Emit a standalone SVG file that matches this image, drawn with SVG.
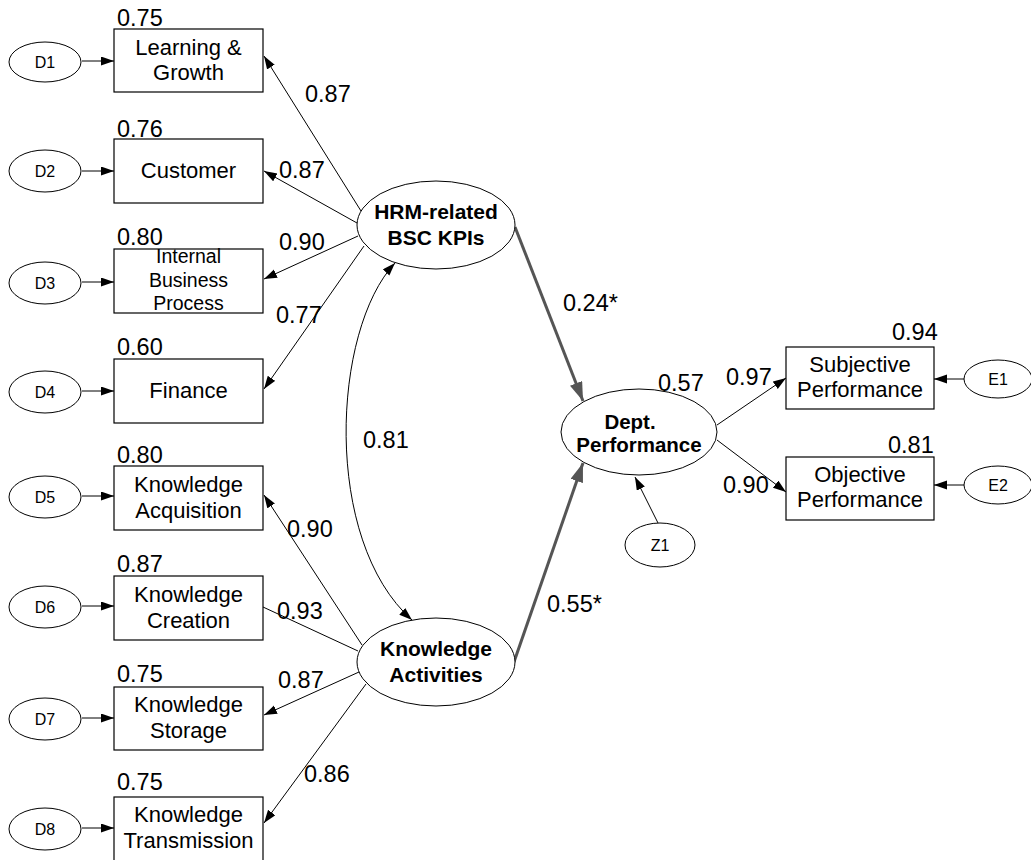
<svg xmlns="http://www.w3.org/2000/svg" width="1031" height="860" viewBox="0 0 1031 860">
<style>
.box{fill:#fff;stroke:#000;stroke-width:1.2}
.ell{fill:#fff;stroke:#000;stroke-width:1}
.t{font-family:"Liberation Sans",Arial,sans-serif;font-size:22px;fill:#000;text-anchor:middle}
.ts{font-family:"Liberation Sans",Arial,sans-serif;font-size:19.5px;fill:#000;text-anchor:middle}
.tb{font-family:"Liberation Sans",Arial,sans-serif;font-size:21px;font-weight:bold;fill:#000;text-anchor:middle}
.d{font-family:"Liberation Sans",Arial,sans-serif;font-size:16px;fill:#000;text-anchor:middle}
.n{font-family:"Liberation Sans",Arial,sans-serif;font-size:23.5px;fill:#000}
.c{fill:none;stroke:#000;stroke-width:1}
.g{fill:none;stroke:#555;stroke-width:3}
</style>
<defs>
<marker id="a" markerUnits="userSpaceOnUse" markerWidth="14" markerHeight="10" refX="13" refY="4.5" orient="auto"><path d="M0,0 L13,4.5 L0,9 z" fill="#000"/></marker>
<marker id="as" markerUnits="userSpaceOnUse" markerWidth="14" markerHeight="10" refX="13" refY="4.5" orient="auto-start-reverse"><path d="M0,0 L13,4.5 L0,9 z" fill="#000"/></marker>
<marker id="ag" markerUnits="userSpaceOnUse" markerWidth="20" markerHeight="14" refX="19" refY="6.5" orient="auto"><path d="M0,0 L19,6.5 L0,13 z" fill="#555"/></marker>
</defs>

<g id="connectors">
<line class="c" x1="82" y1="61" x2="114" y2="61" marker-end="url(#a)"/>
<line class="c" x1="82" y1="171" x2="114" y2="171" marker-end="url(#a)"/>
<line class="c" x1="82" y1="282" x2="114" y2="282" marker-end="url(#a)"/>
<line class="c" x1="82" y1="391" x2="114" y2="391" marker-end="url(#a)"/>
<line class="c" x1="82" y1="496" x2="114" y2="496" marker-end="url(#a)"/>
<line class="c" x1="82" y1="606" x2="114" y2="606" marker-end="url(#a)"/>
<line class="c" x1="82" y1="718" x2="114" y2="718" marker-end="url(#a)"/>
<line class="c" x1="82" y1="828" x2="114" y2="828" marker-end="url(#a)"/>
<line class="c" x1="361" y1="211" x2="264" y2="56" marker-end="url(#a)"/>
<line class="c" x1="357" y1="223" x2="264" y2="171" marker-end="url(#a)"/>
<line class="c" x1="358" y1="236" x2="264" y2="279" marker-end="url(#a)"/>
<line class="c" x1="364" y1="246" x2="264" y2="389" marker-end="url(#a)"/>
<line class="c" x1="362" y1="645" x2="264" y2="495" marker-end="url(#a)"/>
<line class="c" x1="358" y1="651" x2="263" y2="607"/>
<line class="c" x1="359" y1="672" x2="264" y2="715" marker-end="url(#a)"/>
<line class="c" x1="366" y1="684" x2="264" y2="823" marker-end="url(#a)"/>
<path class="c" d="M395,263 C332,330 322,540 412,620" marker-start="url(#as)" marker-end="url(#as)"/>
<line class="g" x1="515" y1="227" x2="583" y2="401" marker-end="url(#ag)"/>
<line class="g" x1="514" y1="662" x2="583" y2="463" marker-end="url(#ag)"/>
<line class="c" x1="717" y1="425" x2="786" y2="378" marker-end="url(#a)"/>
<line class="c" x1="717" y1="440" x2="786" y2="492" marker-end="url(#a)"/>
<line class="c" x1="964" y1="379" x2="934" y2="379" marker-end="url(#a)"/>
<line class="c" x1="964" y1="485" x2="934" y2="485" marker-end="url(#a)"/>
<line class="c" x1="658" y1="523" x2="635" y2="477" marker-end="url(#a)"/>
</g>

<g id="labels">
<text class="n" x="305" y="102">0.87</text>
<text class="n" x="279" y="178">0.87</text>
<text class="n" x="279" y="250">0.90</text>
<text class="n" x="276" y="323">0.77</text>
<text class="n" x="287" y="537">0.90</text>
<text class="n" x="277" y="619">0.93</text>
<text class="n" x="278" y="688">0.87</text>
<text class="n" x="304" y="782">0.86</text>
<text class="n" x="363" y="448">0.81</text>
<text class="n" x="563" y="311">0.24*</text>
<text class="n" x="547" y="612">0.55*</text>
<text class="n" x="658" y="391">0.57</text>
<text class="n" x="726" y="385">0.97</text>
<text class="n" x="723" y="493">0.90</text>
</g>

<g id="D1"><ellipse class="ell" cx="45" cy="62" rx="36" ry="20"/><text class="d" x="45" y="68">D1</text></g>
<g id="D2"><ellipse class="ell" cx="45" cy="171" rx="36" ry="21"/><text class="d" x="45" y="177">D2</text></g>
<g id="D3"><ellipse class="ell" cx="45" cy="283" rx="36" ry="21"/><text class="d" x="45" y="289">D3</text></g>
<g id="D4"><ellipse class="ell" cx="45" cy="392" rx="36" ry="21"/><text class="d" x="45" y="398">D4</text></g>
<g id="D5"><ellipse class="ell" cx="45" cy="497" rx="36" ry="21"/><text class="d" x="45" y="503">D5</text></g>
<g id="D6"><ellipse class="ell" cx="45" cy="607" rx="36" ry="21"/><text class="d" x="45" y="613">D6</text></g>
<g id="D7"><ellipse class="ell" cx="45" cy="719" rx="36" ry="21"/><text class="d" x="45" y="725">D7</text></g>
<g id="D8"><ellipse class="ell" cx="45" cy="829" rx="36" ry="21"/><text class="d" x="45" y="835">D8</text></g>

<g id="learning"><rect class="box" x="114" y="29" width="149" height="63"/><text class="t" x="188.5" y="55">Learning &amp;</text><text class="t" x="188.5" y="80">Growth</text><text class="n" x="117" y="26">0.75</text></g>
<g id="customer"><rect class="box" x="114" y="139" width="149" height="64"/><text class="t" x="188.5" y="178">Customer</text><text class="n" x="117" y="137">0.76</text></g>
<g id="internal"><rect class="box" x="114" y="249" width="149" height="64"/><text class="ts" x="188.5" y="263">Internal</text><text class="ts" x="188.5" y="287">Business</text><text class="ts" x="188.5" y="310">Process</text><text class="n" x="117" y="245">0.80</text></g>
<g id="finance"><rect class="box" x="114" y="359" width="149" height="64"/><text class="t" x="188.5" y="398">Finance</text><text class="n" x="117" y="355">0.60</text></g>
<g id="acquisition"><rect class="box" x="114" y="466" width="149" height="64"/><text class="t" x="188.5" y="492">Knowledge</text><text class="t" x="188.5" y="518">Acquisition</text><text class="n" x="117" y="463">0.80</text></g>
<g id="creation"><rect class="box" x="114" y="576" width="149" height="64"/><text class="t" x="188.5" y="602">Knowledge</text><text class="t" x="188.5" y="628">Creation</text><text class="n" x="117" y="572">0.87</text></g>
<g id="storage"><rect class="box" x="114" y="687" width="149" height="63"/><text class="t" x="188.5" y="712">Knowledge</text><text class="t" x="188.5" y="738">Storage</text><text class="n" x="117" y="682">0.75</text></g>
<g id="transmission"><rect class="box" x="114" y="797" width="149" height="70"/><text class="t" x="188.5" y="822">Knowledge</text><text class="t" x="188.5" y="848">Transmission</text><text class="n" x="117" y="790">0.75</text></g>

<g id="hrm"><ellipse class="ell" cx="436" cy="225" rx="79" ry="44"/><text class="tb" x="436" y="219">HRM-related</text><text class="tb" x="436" y="245">BSC KPIs</text></g>
<g id="ka"><ellipse class="ell" cx="436" cy="662" rx="79" ry="44"/><text class="tb" x="436" y="656">Knowledge</text><text class="tb" x="436" y="682">Activities</text></g>
<g id="dept"><ellipse class="ell" cx="639" cy="432" rx="78" ry="43"/><text class="tb" x="630" y="429" style="font-size:20.5px">Dept.</text><text class="tb" x="639" y="452" style="font-size:20.5px">Performance</text></g>

<g id="subjective"><rect class="box" x="786" y="347" width="148" height="62"/><text class="t" x="860" y="372">Subjective</text><text class="t" x="860" y="397">Performance</text><text class="n" x="892" y="340">0.94</text></g>
<g id="objective"><rect class="box" x="786" y="457" width="148" height="63"/><text class="t" x="860" y="482">Objective</text><text class="t" x="860" y="507">Performance</text><text class="n" x="888" y="453">0.81</text></g>
<g id="E1"><ellipse class="ell" cx="998" cy="379" rx="34" ry="19"/><text class="d" x="998" y="385">E1</text></g>
<g id="E2"><ellipse class="ell" cx="998" cy="485" rx="34" ry="19"/><text class="d" x="998" y="491">E2</text></g>
<g id="Z1"><ellipse class="ell" cx="660" cy="545" rx="35" ry="22"/><text class="d" x="660" y="551">Z1</text></g>
</svg>
